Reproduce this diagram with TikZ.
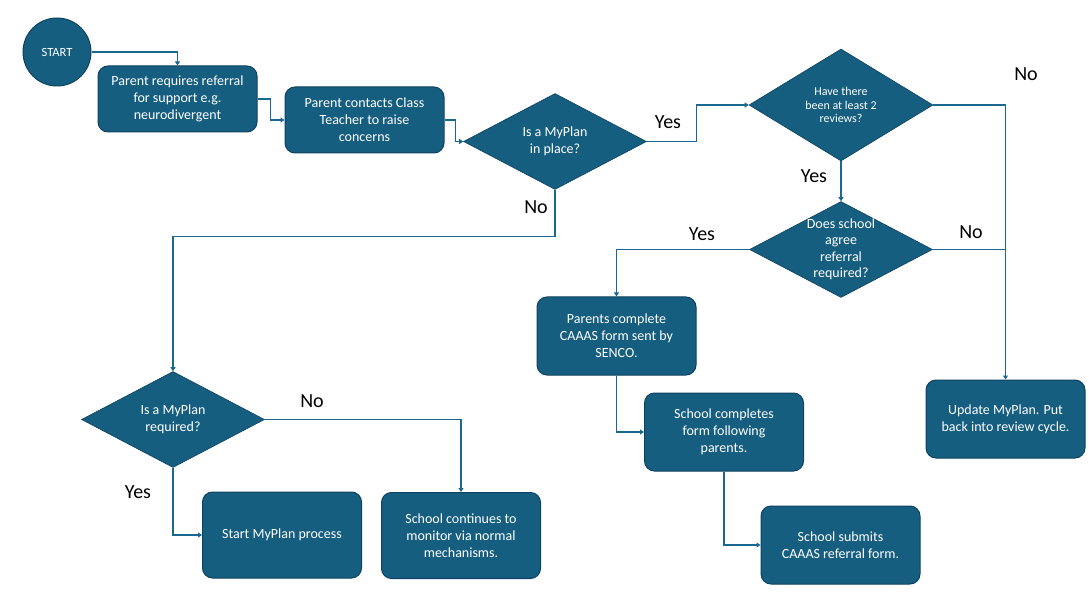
\documentclass[tikz,border=0pt]{standalone}
\usepackage{fontspec}
\setmainfont{Carlito}
\usetikzlibrary{shapes.geometric,arrows.meta}
\definecolor{flowfill}{HTML}{165E80}
\definecolor{flowedge}{HTML}{0F4260}
\definecolor{flowline}{HTML}{1A6890}

\begin{document}
\begin{tikzpicture}[x=1pt, y=-1pt,
  every node/.style={font=\fontsize{14}{17}\selectfont},
  procbox/.style={draw=flowedge, line width=1pt, fill=flowfill, rounded corners=10pt,
    text=white, align=center, minimum width=159pt, inner sep=0pt},
  decide/.style={diamond, draw=flowedge, line width=0.6pt, fill=flowfill, inner sep=0pt,
    minimum width=183pt, minimum height=96pt, text=white},
  dtext/.style={text=white, align=center, font=\fontsize{14}{17}\selectfont},
  answer/.style={font=\fontsize{20}{22}\selectfont, text=black},
  flow/.style={draw=flowline, line width=1.3pt, -{Triangle[width=5pt,length=4pt]}},
  joint/.style={draw=flowline, line width=1.3pt}]
  \useasboundingbox (0,0) rectangle (1089,593);

  \node[circle, draw=flowedge, line width=1pt, fill=flowfill, minimum size=68pt, text=white,
    font=\fontsize{12.5}{14}\selectfont] (start) at (57,52) {START};
  \node[procbox, minimum height=66pt] (refer) at (177.5,99) {Parent requires referral\\for support e.g.\\neurodivergent};
  \node[procbox, minimum height=66pt] (contact) at (364.5,120) {Parent contacts Class\\Teacher to raise\\concerns};
  \node[decide, label={[dtext]center:Is a MyPlan\\in place?}] (inplace) at (555,141.5) {};
  \node[decide, minimum width=184pt, minimum height=112pt, label={[dtext, font=\fontsize{12}{13.5}\selectfont]center:Have there\\been at least 2\\reviews?}] (reviews) at (841,105) {};
  \node[decide, label={[dtext, font=\fontsize{14}{16.5}\selectfont]center:Does school\\agree\\referral\\required?}] (agree) at (841,249.5) {};
  \node[procbox, minimum height=78pt] (parents) at (616.5,336) {Parents complete\\CAAAS form sent by\\SENCO.};
  \node[procbox, minimum height=78pt] (completes) at (724,432) {School completes\\form following\\parents.};
  \node[procbox, minimum height=78pt] (submits) at (840.5,545) {School submits\\CAAAS referral form.};
  \node[procbox, minimum height=78pt] (update) at (1005.5,419) {Update MyPlan. Put\\back into review cycle.};
  \node[decide, label={[dtext]center:Is a MyPlan\\required?}] (required) at (173,419.5) {};
  \node[procbox, minimum height=86pt] (startplan) at (282,535) {Start MyPlan process};
  \node[procbox, minimum height=86pt] (continues) at (461,535.5) {School continues to\\monitor via normal\\mechanisms.};

  % connectors
  \draw[flow] (start.east) -| (refer.north);
  \draw[flow] (refer.east) -- ++(13,0) |- (contact.west);
  \draw[flow] (contact.east) -- ++(11,0) |- (inplace.west);
  \draw[flow] (inplace.east) -- ++(50,0) |- (reviews.west);
  \draw[flow] (reviews.east) -| (update.north);
  \draw[flow] (reviews.south) -- (agree.north);
  \draw[joint] (agree.east) -- (agree.east -| update.north);
  \draw[flow] (agree.west) -| (parents.north);
  \draw[flow] (parents.south) |- (completes.west);
  \draw[flow] (completes.south) |- (submits.west);
  \draw[flow] (inplace.south) -- ++(0,47) -| (required.north);
  \draw[flow] (required.east) -| (continues.north);
  \draw[flow] (required.south) |- (startplan.west);

  \node[answer] (yes1) at (668,122) {Yes};
  \node[answer] (no1) at (536,207) {No};
  \node[answer] (no2) at (1026,74) {No};
  \node[answer] (yes2) at (814,176) {Yes};
  \node[answer] (yes3) at (702,234) {Yes};
  \node[answer] (no3) at (971,232) {No};
  \node[answer] (no4) at (312,401) {No};
  \node[answer] (yes4) at (138,492) {Yes};
\end{tikzpicture}
\end{document}
